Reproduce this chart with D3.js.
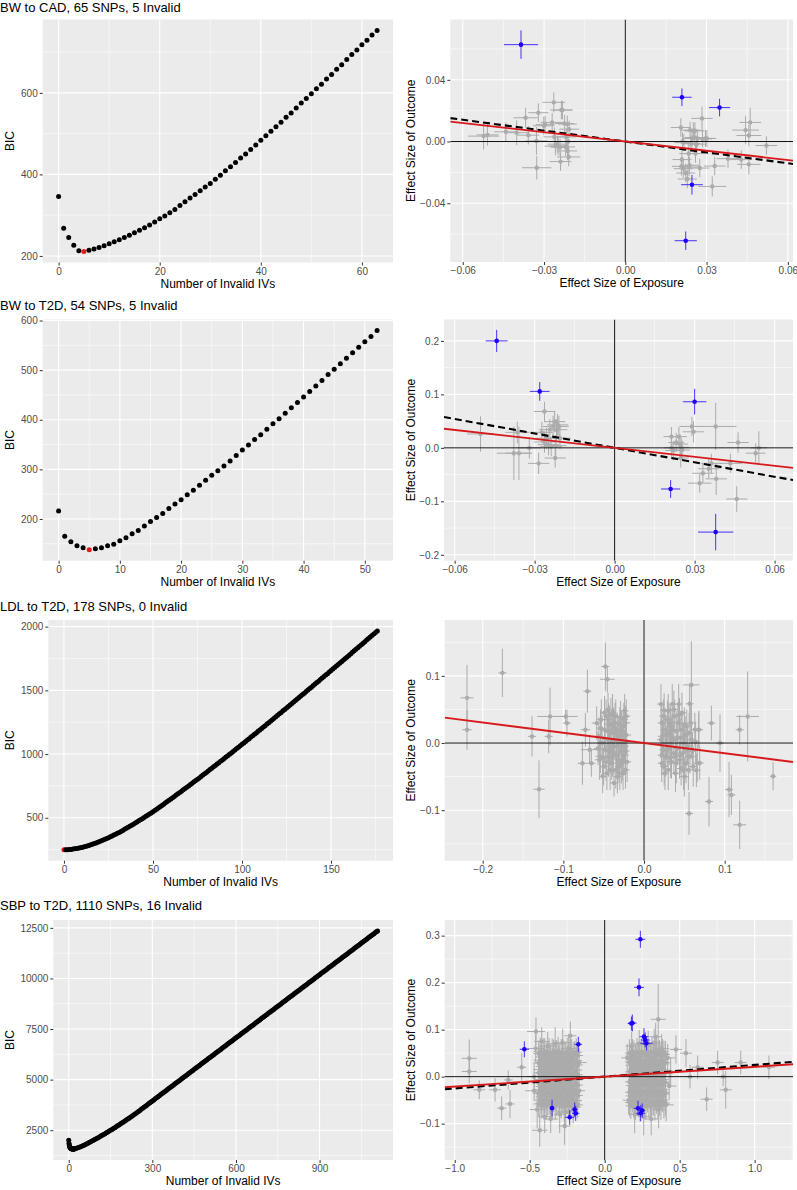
<!DOCTYPE html>
<html><head><meta charset="utf-8">
<script src="https://cdn.jsdelivr.net/npm/d3@7"></script>
<style>body{margin:0;background:#fff}svg{display:block}text{font-family:"Liberation Sans",Arial,Helvetica,sans-serif}</style>
</head><body><svg id="c" width="797" height="1190"></svg>
<script>
// ---------------- DATA ----------------
const rowTitles = ["BW to CAD, 65 SNPs, 5 Invalid","BW to T2D, 54 SNPs, 5 Invalid","LDL to T2D, 178 SNPs, 0 Invalid","SBP to T2D, 1110 SNPs, 16 Invalid"];

// BIC curves (x = number of invalid IVs)
const cadK = [0,1,2,3,4,5,6,7,8,9,10,11,12,13,14,15,16,17,18,19,20,21,22,23,24,25,26,27,28,29,30,31,32,33,34,35,36,37,38,39,40,41,42,43,44,45,46,47,48,49,50,51,52,53,54,55,56,57,58,59,60,61,62,63];
const cadBIC = [346,268,245,226,213,211,214,217,221,225,230,235,240,245,251,257,263,269,276,283,291,298,306,314,324,333,342,351,360,369,378,388,398,409,419,429,440,450,461,472,484,495,506,517,528,540,551,563,575,586,598,610,621,634,645,658,669,682,694,705,718,729,742,753];
const cadBest = 5;

const bwK = [0,1,2,3,4,5,6,7,8,9,10,11,12,13,14,15,16,17,18,19,20,21,22,23,24,25,26,27,28,29,30,31,32,33,34,35,36,37,38,39,40,41,42,43,44,45,46,47,48,49,50,51,52];
const bwBIC = [216,165,154,146,142,138,140,142,146,149,156,162,170,177,186,195,203,211,221,230,239,249,258,268,278,288,297,307,317,328,339,349,360,370,381,392,402,413,424,435,446,457,468,479,491,502,513,524,535,546,557,568,580];
const bwBest = 5;

const ldlK = [0,1,2,3,4,5,6,7,8,9,10,11,12,13,14,15,16,17,18,19,20,21,22,23,24,25,26,27,28,29,30,31,32,33,34,35,36,37,38,39,40,41,42,43,44,45,46,47,48,49,50,51,52,53,54,55,56,57,58,59,60,61,62,63,64,65,66,67,68,69,70,71,72,73,74,75,76,77,78,79,80,81,82,83,84,85,86,87,88,89,90,91,92,93,94,95,96,97,98,99,100,101,102,103,104,105,106,107,108,109,110,111,112,113,114,115,116,117,118,119,120,121,122,123,124,125,126,127,128,129,130,131,132,133,134,135,136,137,138,139,140,141,142,143,144,145,146,147,148,149,150,151,152,153,154,155,156,157,158,159,160,161,162,163,164,165,166,167,168,169,170,171,172,173,174,175,176];
const ldlBIC = [249,249,250,251,252,254,256,258,261,264,267,270,274,278,283,288,293,298,303,308,314,320,326,332,338,344,351,357,364,371,378,385,393,401,409,417,425,433,441,449,458,467,476,485,493,502,511,520,529,538,547,557,567,577,587,597,607,617,627,637,647,657,667,678,688,698,709,719,729,740,750,761,771,782,792,803,813,824,835,845,856,867,878,889,900,911,921,932,943,954,965,976,987,998,1009,1020,1032,1043,1054,1065,1076,1087,1099,1110,1121,1133,1144,1155,1166,1178,1189,1200,1212,1223,1235,1246,1258,1269,1281,1292,1304,1316,1327,1339,1350,1362,1374,1385,1397,1408,1420,1432,1443,1455,1467,1478,1490,1502,1514,1525,1537,1549,1561,1572,1584,1596,1608,1620,1631,1643,1655,1667,1679,1691,1703,1715,1726,1738,1750,1762,1774,1786,1798,1810,1822,1834,1846,1858,1870,1882,1894,1906,1918,1930,1942,1954,1966];
const ldlBest = 0;

const sbpK = [0,1,2,3,4,5,6,7,8,9,10,11,12,13,14,15,16,17,18,19,20,25,30,35,40,45,50,55,60,65,70,75,80,85,90,95,100,105,110,115,120,125,130,135,140,145,150,155,160,165,170,175,180,185,190,195,200,205,210,215,220,225,230,235,240,245,250,255,260,265,270,275,280,285,290,295,300,305,310,315,320,325,330,335,340,345,350,355,360,365,370,375,380,385,390,395,400,405,410,415,420,425,430,435,440,445,450,455,460,465,470,475,480,485,490,495,500,505,510,515,520,525,530,535,540,545,550,555,560,565,570,575,580,585,590,595,600,605,610,615,620,625,630,635,640,645,650,655,660,665,670,675,680,685,690,695,700,705,710,715,720,725,730,735,740,745,750,755,760,765,770,775,780,785,790,795,800,805,810,815,820,825,830,835,840,845,850,855,860,865,870,875,880,885,890,895,900,905,910,915,920,925,930,935,940,945,950,955,960,965,970,975,980,985,990,995,1000,1005,1010,1015,1020,1025,1030,1035,1040,1045,1050,1055,1060,1065,1070,1075,1080,1085,1090,1095,1100,1105,1108];
const sbpBIC = [2010,1860,1770,1710,1670,1645,1625,1610,1598,1590,1583,1578,1574,1571,1569,1568,1567,1568,1569,1571,1575,1594,1615,1641,1668,1698,1729,1762,1795,1830,1866,1902,1939,1976,2014,2052,2091,2130,2170,2209,2249,2289,2330,2371,2413,2455,2498,2541,2584,2627,2671,2715,2760,2805,2851,2897,2944,2991,3038,3085,3133,3181,3230,3279,3329,3379,3429,3480,3531,3582,3634,3686,3738,3790,3842,3894,3947,3999,4051,4103,4155,4207,4259,4311,4363,4415,4467,4519,4571,4623,4675,4727,4779,4831,4883,4935,4987,5039,5091,5143,5195,5247,5299,5351,5403,5455,5507,5559,5611,5663,5715,5767,5819,5871,5923,5975,6027,6079,6131,6183,6235,6287,6339,6391,6443,6495,6547,6599,6651,6703,6755,6807,6859,6911,6963,7015,7067,7119,7171,7223,7275,7327,7379,7431,7483,7535,7587,7639,7691,7743,7795,7847,7899,7951,8003,8055,8107,8159,8211,8263,8315,8367,8419,8471,8523,8575,8627,8679,8731,8783,8835,8887,8939,8991,9043,9095,9147,9199,9251,9303,9355,9407,9459,9511,9563,9615,9667,9719,9771,9823,9875,9927,9979,10031,10083,10135,10187,10239,10291,10343,10395,10447,10499,10551,10603,10655,10707,10759,10811,10863,10915,10967,11019,11071,11123,11175,11227,11279,11331,11383,11435,11487,11539,11591,11643,11695,11747,11799,11851,11903,11955,12007,12059,12111,12163,12215,12267,12319,12350];
const sbpBest = 16;

// Scatter: [exposure effect, outcome effect, exposure bar half-width, outcome bar half-width]
const cadValid = [
[-0.0523,0.0035,0.0058,0.0087],[-0.0509,0.0043,0.0040,0.0070],[-0.0441,0.0063,0.0043,0.0060],[-0.0401,0.0057,0.0045,0.0080],
[-0.0368,0.0154,0.0045,0.0065],[-0.0358,0.0041,0.0040,0.0060],[-0.0328,0.0004,0.0040,0.0090],[-0.0327,-0.0170,0.0054,0.0076],
[-0.0321,0.0187,0.0037,0.0060],[-0.0301,0.0102,0.0040,0.0060],[-0.0296,0.0111,0.0035,0.0055],[-0.0270,0.0124,0.0043,0.0060],
[-0.0264,0.0254,0.0042,0.0065],[-0.0262,0.0030,0.0040,0.0060],[-0.0258,-0.0030,0.0040,0.0060],[-0.0251,-0.0017,0.0035,0.0055],
[-0.0248,-0.0030,0.0035,0.0060],[-0.0241,-0.0037,0.0035,0.0055],[-0.0239,-0.0130,0.0040,0.0060],[-0.0236,0.0204,0.0042,0.0060],
[-0.0232,0.0204,0.0035,0.0060],[-0.0224,0.0117,0.0035,0.0055],[-0.0220,-0.0035,0.0035,0.0060],[-0.0218,0.0030,0.0035,0.0055],
[-0.0214,0.0113,0.0035,0.0055],[-0.0213,-0.0061,0.0035,0.0060],[-0.0209,-0.0100,0.0043,0.0060],[-0.0207,0.0080,0.0037,0.0055],
[-0.0211,0.0000,0.0035,0.0055],
[0.0205,0.0091,0.0037,0.0060],[0.0209,-0.0117,0.0035,0.0060],[0.0207,-0.0161,0.0035,0.0060],[0.0211,0.0000,0.0035,0.0060],
[0.0214,-0.0176,0.0035,0.0060],[0.0216,-0.0007,0.0035,0.0055],[0.0223,-0.0204,0.0035,0.0060],[0.0229,-0.0243,0.0035,0.0060],
[0.0234,-0.0078,0.0035,0.0055],[0.0235,-0.0165,0.0035,0.0060],[0.0237,-0.0154,0.0035,0.0055],[0.0239,0.0074,0.0035,0.0055],
[0.0242,-0.0013,0.0035,0.0055],[0.0246,0.0020,0.0035,0.0060],[0.0251,0.0070,0.0035,0.0055],[0.0255,0.0026,0.0035,0.0055],
[0.0257,0.0070,0.0035,0.0055],[0.0259,-0.0078,0.0035,0.0060],[0.0263,-0.0017,0.0035,0.0055],[0.0266,0.0020,0.0035,0.0055],
[0.0275,-0.0172,0.0035,0.0060],[0.0283,0.0150,0.0040,0.0075],[0.0285,0.0017,0.0035,0.0055],[0.0296,0.0020,0.0035,0.0055],
[0.0301,0.0020,0.0035,0.0055],[0.0321,-0.0291,0.0052,0.0065],[0.0330,-0.0159,0.0040,0.0060],[0.0379,-0.0111,0.0043,0.0060],
[0.0428,-0.0117,0.0040,0.0060],[0.0444,0.0074,0.0049,0.0092],[0.0456,0.0039,0.0046,0.0070],[0.0456,-0.0148,0.0043,0.0065],
[0.0461,0.0124,0.0040,0.0095],[0.0521,-0.0026,0.0040,0.0060]
];
const cadInvalid = [
[-0.0385,0.0628,0.0063,0.0092],[0.0209,0.0287,0.0036,0.0057],[0.0348,0.0220,0.0039,0.0057],[0.0246,-0.0280,0.0040,0.0064],[0.0223,-0.0643,0.0041,0.0060]
];

const bwValid = [
[-0.0503,0.026,0.0050,0.033],[-0.0378,-0.010,0.0064,0.050],[-0.0359,-0.010,0.0050,0.050],[-0.0365,0.029,0.0045,0.020],
[-0.0320,0.000,0.0044,0.020],[-0.0285,-0.029,0.0040,0.020],[-0.0263,0.068,0.0040,0.018],[-0.0273,0.029,0.0040,0.020],
[-0.0256,0.018,0.0040,0.020],[-0.0263,0.011,0.0040,0.020],[-0.0248,0.006,0.0040,0.020],[-0.0243,0.034,0.0040,0.020],
[-0.0238,0.0025,0.0040,0.018],[-0.0231,0.040,0.0040,0.020],[-0.0225,0.049,0.0040,0.020],[-0.0223,-0.019,0.0040,0.018],
[-0.0218,0.034,0.0040,0.020],[-0.0214,0.043,0.0040,0.020],[-0.0209,0.040,0.0037,0.020],[-0.0221,0.004,0.0040,0.020],
[-0.0205,0.018,0.0040,0.020],
[0.0213,0.021,0.0030,0.018],[0.0213,0.000,0.0030,0.018],[0.0220,-0.005,0.0030,0.018],[0.0231,0.010,0.0030,0.018],
[0.0241,0.021,0.0030,0.018],[0.0245,0.007,0.0030,0.018],[0.0250,0.001,0.0030,0.018],[0.0253,-0.004,0.0030,0.018],
[0.0248,-0.019,0.0030,0.018],[0.0290,0.040,0.0047,0.018],[0.0296,0.030,0.0040,0.020],[0.0319,-0.066,0.0044,0.018],
[0.0331,-0.0475,0.0040,0.018],[0.0353,-0.039,0.0040,0.018],[0.0363,-0.029,0.0040,0.018],[0.0379,0.040,0.0078,0.044],
[0.0381,-0.058,0.0040,0.030],[0.0434,-0.029,0.0044,0.018],[0.0463,0.010,0.0040,0.019],[0.0458,-0.0956,0.0040,0.024],
[0.0529,-0.010,0.0037,0.018],[0.0541,0.000,0.0030,0.031]
];
const bwInvalid = [
[-0.04425,0.200,0.0041,0.0206],[-0.0281,0.1056,0.0037,0.0175],[0.0300,0.0862,0.0044,0.024],[0.0210,-0.0769,0.0036,0.0166],[0.0379,-0.1575,0.0066,0.034]
];

const ldlValid = [
[-0.2194,0.0673,0.008,0.049],[-0.2194,0.0198,0.006,0.030],[-0.1756,0.1045,0.005,0.036],[-0.1388,0.0099,0.005,0.030],
[-0.1302,-0.0688,0.007,0.043],[-0.1165,0.0396,0.016,0.043],[-0.1182,0.0099,0.005,0.025],[-0.0971,0.0396,0.015,0.010],
[-0.0955,0.0297,0.005,0.020],[-0.0764,-0.0302,0.006,0.032],[-0.0702,0.0772,0.005,0.032],[-0.0674,-0.0099,0.011,0.020],
[-0.0653,-0.0302,0.005,0.020],[-0.0727,0.0198,0.006,0.025],[-0.0587,0.0297,0.006,0.025],[-0.0541,-0.0198,0.006,0.025],
[-0.0512,-0.0495,0.005,0.025],[-0.0479,0.1139,0.005,0.036],[-0.0455,0.0950,0.009,0.020],[-0.0446,0.0495,0.005,0.025],
[-0.0372,-0.0594,0.005,0.020],
[-0.056,0.010,0.006,0.028],[-0.055,-0.025,0.006,0.030],[-0.053,0.035,0.005,0.030],[-0.052,0.000,0.006,0.025],
[-0.050,-0.035,0.005,0.028],[-0.049,0.020,0.006,0.030],[-0.048,-0.010,0.005,0.028],[-0.047,0.040,0.005,0.025],
[-0.046,-0.045,0.006,0.025],[-0.045,0.005,0.006,0.030],[-0.044,-0.020,0.005,0.030],[-0.043,0.028,0.005,0.028],
[-0.042,-0.005,0.006,0.025],[-0.041,0.015,0.005,0.030],[-0.040,-0.030,0.005,0.025],[-0.039,0.045,0.005,0.028],
[-0.038,-0.015,0.006,0.030],[-0.037,0.005,0.005,0.025],[-0.036,0.030,0.006,0.030],[-0.035,-0.040,0.005,0.028],
[-0.034,-0.005,0.005,0.030],[-0.033,0.020,0.006,0.025],[-0.032,-0.025,0.005,0.028],[-0.031,0.010,0.005,0.030],
[-0.030,-0.012,0.006,0.028],[-0.029,0.038,0.005,0.025],[-0.028,-0.030,0.005,0.030],[-0.027,0.000,0.006,0.028],
[-0.026,0.025,0.005,0.025],[-0.025,-0.018,0.006,0.030],[-0.024,0.048,0.005,0.025],[-0.023,-0.040,0.005,0.028],
[-0.022,0.012,0.006,0.030],[-0.024,-0.005,0.005,0.025],[-0.026,-0.045,0.005,0.025],[-0.030,0.028,0.005,0.025],
[-0.033,-0.050,0.005,0.025],[-0.036,0.015,0.005,0.028],[-0.040,0.002,0.005,0.030],[-0.044,0.035,0.005,0.025],
[-0.028,0.018,0.005,0.030],[-0.023,0.030,0.006,0.025],[-0.025,0.005,0.005,0.028],[-0.031,-0.035,0.005,0.025],
[-0.038,0.025,0.005,0.028],[-0.043,-0.012,0.005,0.025],
[-0.057,-0.008,0.005,0.025],[-0.054,0.022,0.005,0.028],[-0.051,-0.022,0.005,0.030],[-0.049,0.045,0.005,0.025],
[-0.047,-0.028,0.005,0.028],[-0.045,0.018,0.005,0.025],[-0.042,-0.040,0.005,0.030],[-0.041,0.042,0.005,0.025],
[-0.039,-0.022,0.005,0.028],[-0.037,0.020,0.005,0.030],[-0.035,0.040,0.005,0.025],[-0.034,-0.018,0.005,0.028],
[-0.032,0.005,0.005,0.030],[-0.030,-0.045,0.005,0.025],[-0.029,0.012,0.005,0.028],[-0.027,-0.025,0.005,0.030],
[-0.025,0.035,0.005,0.025],[-0.023,-0.012,0.005,0.028],[-0.022,0.040,0.005,0.025],[-0.021,-0.028,0.005,0.030],
[0.021,0.058,0.005,0.030],[0.022,-0.030,0.005,0.028],[0.023,0.010,0.006,0.025],[0.024,-0.010,0.005,0.030],
[0.025,0.049,0.005,0.025],[0.026,0.020,0.006,0.028],[0.027,-0.020,0.005,0.030],[0.028,0.000,0.006,0.025],
[0.029,0.035,0.005,0.028],[0.030,-0.040,0.005,0.030],[0.031,0.015,0.006,0.025],[0.032,-0.005,0.005,0.028],
[0.033,0.025,0.005,0.030],[0.034,-0.028,0.006,0.025],[0.035,0.058,0.005,0.030],[0.036,0.005,0.005,0.028],
[0.037,-0.015,0.006,0.030],[0.038,0.040,0.005,0.025],[0.039,-0.045,0.005,0.028],[0.040,0.018,0.006,0.030],
[0.041,-0.008,0.005,0.025],[0.042,0.030,0.005,0.028],[0.043,0.058,0.005,0.030],[0.044,-0.025,0.006,0.028],
[0.045,0.008,0.005,0.030],[0.046,-0.038,0.005,0.025],[0.047,0.020,0.006,0.028],[0.048,-0.015,0.005,0.030],
[0.049,0.000,0.005,0.025],[0.050,-0.050,0.006,0.030],[0.051,0.012,0.005,0.028],[0.052,-0.030,0.005,0.030],
[0.053,0.025,0.006,0.025],[0.054,-0.005,0.005,0.028],[0.056,0.015,0.005,0.030],[0.057,-0.020,0.006,0.025],
[0.059,0.005,0.005,0.028],[0.061,-0.035,0.005,0.030],[0.063,0.020,0.005,0.025],[0.066,-0.030,0.006,0.028],
[0.068,0.020,0.005,0.028],[0.030,0.048,0.005,0.025],[0.034,0.010,0.005,0.028],[0.039,-0.020,0.005,0.030],
[0.044,0.042,0.005,0.025],[0.049,-0.040,0.005,0.030],[0.026,-0.045,0.005,0.025],[0.022,0.030,0.005,0.028],
[0.021,0.005,0.005,0.028],[0.022,-0.018,0.005,0.030],[0.024,0.040,0.005,0.025],[0.025,-0.035,0.005,0.028],
[0.027,0.012,0.005,0.030],[0.029,-0.010,0.005,0.025],[0.031,0.030,0.005,0.028],[0.033,-0.022,0.005,0.030],
[0.035,0.020,0.005,0.025],[0.037,0.050,0.005,0.028],[0.040,-0.030,0.005,0.030],[0.042,0.008,0.005,0.025],
[0.045,-0.018,0.005,0.028],[0.047,0.045,0.005,0.030],[0.050,0.028,0.005,0.025],[0.052,-0.010,0.005,0.028],
[0.055,-0.040,0.005,0.030],[0.058,0.030,0.005,0.025],[0.060,-0.012,0.005,0.028],[0.064,0.002,0.005,0.030],
[0.0566,0.0584,0.005,0.030],[0.0587,0.0866,0.010,0.065],[0.0558,-0.1049,0.005,0.032],[0.0678,0.0198,0.005,0.025],
[0.0649,-0.0406,0.005,0.025],[0.0690,-0.0297,0.005,0.025],[0.0835,0.0297,0.005,0.026],[0.0806,-0.0871,0.005,0.037],
[0.0942,0.0000,0.005,0.043],[0.1054,-0.0693,0.005,0.041],[0.1083,-0.0772,0.005,0.030],[0.1186,0.0198,0.005,0.022],
[0.1285,0.0396,0.014,0.067],[0.1186,-0.1218,0.008,0.036],[0.1600,-0.0495,0.004,0.021]
];
const ldlInvalid = [];

// SBP: scattered valid SNPs (outliers and cluster edges)
const sbpValid = [
[-0.903,0.039,0.05,0.040],[-0.903,0.011,0.05,0.025],[-0.836,-0.028,0.04,0.020],[-0.731,-0.028,0.04,0.025],
[-0.687,-0.067,0.03,0.025],[-0.631,-0.058,0.03,0.030],[-0.643,-0.007,0.03,0.020],[-0.553,0.020,0.03,0.030],
[-0.458,0.096,0.06,0.030],[-0.433,-0.114,0.05,0.035],[-0.267,-0.105,0.04,0.040],[-0.229,0.087,0.04,0.030],
[0.357,0.122,0.05,0.075],[0.475,0.058,0.04,0.030],[0.542,0.050,0.04,0.030],[0.680,-0.048,0.04,0.025],
[0.790,0.000,0.04,0.020],[0.807,-0.028,0.04,0.040],[0.753,0.030,0.04,0.025],[0.907,0.030,0.04,0.025],
[1.095,0.020,0.04,0.025],[0.620,0.020,0.04,0.025],[0.569,0.000,0.03,0.025],
[-0.46,0.060,0.06,0.030],[-0.45,-0.070,0.05,0.040],[-0.42,0.075,0.05,0.030],[-0.40,-0.085,0.04,0.035],
[-0.38,0.065,0.06,0.030],[-0.36,-0.090,0.05,0.030],[-0.33,0.070,0.05,0.035],[-0.30,-0.080,0.04,0.040],
[-0.28,0.072,0.05,0.030],[-0.26,-0.075,0.06,0.035],[-0.24,0.060,0.05,0.030],[-0.21,-0.065,0.05,0.035],
[-0.17,0.030,0.05,0.030],[-0.17,-0.030,0.04,0.030],[-0.47,0.000,0.05,0.030],[-0.47,-0.030,0.06,0.020],
[0.15,0.040,0.04,0.030],[0.16,-0.050,0.04,0.030],[0.18,0.065,0.04,0.030],[0.20,-0.080,0.04,0.040],
[0.23,0.070,0.05,0.030],[0.26,-0.085,0.04,0.040],[0.29,0.068,0.05,0.030],[0.31,-0.090,0.05,0.035],
[0.33,0.072,0.04,0.030],[0.36,-0.070,0.05,0.040],[0.38,0.060,0.05,0.030],[0.41,-0.060,0.05,0.035],
[0.42,0.040,0.05,0.030],[0.43,-0.020,0.05,0.030],[0.44,0.010,0.04,0.030],[0.34,0.085,0.04,0.030]
];
// SBP dense clusters: exposure value of each column, outcome values in that column, bar half-widths per column
const sbpLeftX = [-0.44,-0.43,-0.42,-0.41,-0.40,-0.39,-0.38,-0.37,-0.36,-0.35,-0.34,-0.33,-0.32,-0.31,-0.30,-0.29,-0.28,-0.27,-0.26,-0.25,-0.24,-0.23,-0.22,-0.21,-0.20,-0.19,-0.18];
const sbpLeftY = [
[-0.058,-0.036,-0.014,0.008,0.029,0.049],[-0.050,-0.028,-0.006,0.015,0.035,0.053],[-0.063,-0.043,-0.021,0.001,0.022,0.042],
[-0.056,-0.034,-0.013,0.009,0.030,0.050],[-0.049,-0.027,-0.005,0.016,0.036,0.054],[-0.062,-0.042,-0.020,0.002,0.023,0.043],
[-0.057,-0.035,-0.015,0.007,0.028,0.048],[-0.051,-0.029,-0.007,0.014,0.034,0.052],[-0.064,-0.044,-0.022,0.000,0.021,0.041],
[-0.058,-0.037,-0.014,0.008,0.029,0.049],[-0.050,-0.028,-0.006,0.015,0.035,0.053],[-0.062,-0.043,-0.021,0.001,0.022,0.042],
[-0.056,-0.034,-0.013,0.009,0.030,0.050],[-0.049,-0.027,-0.005,0.016,0.036,0.054],[-0.063,-0.042,-0.020,0.002,0.023,0.043],
[-0.057,-0.035,-0.015,0.007,0.028,0.048],[-0.051,-0.029,-0.007,0.014,0.034,0.052],[-0.064,-0.044,-0.022,0.000,0.021,0.041],
[-0.058,-0.037,-0.014,0.008,0.029,0.049],[-0.050,-0.028,-0.006,0.015,0.035,0.053],[-0.062,-0.043,-0.021,0.001,0.022,0.042],
[-0.056,-0.034,-0.013,0.009,0.030,0.050],[-0.049,-0.027,-0.005,0.016,0.036,0.054],[-0.063,-0.042,-0.020,0.002,0.023,0.043],
[-0.057,-0.035,-0.015,0.007,0.028,0.048],[-0.051,-0.029,-0.007,0.014,0.034,0.052],[-0.060,-0.040,-0.018,0.004,0.025,0.045]];
const sbpLeftSX = [0.035,0.045,0.040,0.050,0.035,0.045,0.040,0.050,0.035,0.045,0.040,0.050,0.035,0.045,0.040,0.050,0.035,0.045,0.040,0.050,0.035,0.045,0.040,0.045,0.035,0.040,0.035];
const sbpLeftSY = [0.028,0.030,0.026,0.032,0.028,0.030,0.026,0.030,0.028,0.032,0.026,0.030,0.028,0.030,0.026,0.032,0.028,0.030,0.026,0.030,0.028,0.032,0.026,0.030,0.028,0.030,0.028];
const sbpRightX = [0.165,0.175,0.185,0.195,0.205,0.215,0.225,0.235,0.245,0.255,0.265,0.275,0.285,0.295,0.305,0.315,0.325,0.335,0.345,0.355,0.365,0.375,0.385,0.395,0.405];
const sbpRightY = [
[-0.055,-0.033,-0.011,0.010,0.031,0.050],[-0.062,-0.041,-0.019,0.003,0.024,0.044],[-0.050,-0.028,-0.006,0.016,0.036,0.054],
[-0.059,-0.037,-0.015,0.007,0.027,0.047],[-0.064,-0.043,-0.021,0.000,0.021,0.041],[-0.052,-0.030,-0.008,0.013,0.033,0.052],
[-0.057,-0.035,-0.013,0.009,0.029,0.049],[-0.063,-0.042,-0.020,0.002,0.022,0.043],[-0.051,-0.029,-0.007,0.015,0.035,0.053],
[-0.060,-0.038,-0.016,0.006,0.026,0.046],[-0.055,-0.033,-0.011,0.010,0.031,0.050],[-0.062,-0.041,-0.019,0.003,0.024,0.044],
[-0.050,-0.028,-0.006,0.016,0.036,0.054],[-0.059,-0.037,-0.015,0.007,0.027,0.047],[-0.064,-0.043,-0.021,0.000,0.021,0.041],
[-0.052,-0.030,-0.008,0.013,0.033,0.052],[-0.057,-0.035,-0.013,0.009,0.029,0.049],[-0.063,-0.042,-0.020,0.002,0.022,0.043],
[-0.051,-0.029,-0.007,0.015,0.035,0.053],[-0.060,-0.038,-0.016,0.006,0.026,0.046],[-0.055,-0.033,-0.011,0.010,0.031,0.050],
[-0.062,-0.041,-0.019,0.003,0.024,0.044],[-0.050,-0.028,-0.006,0.016,0.036,0.054],[-0.059,-0.037,-0.015,0.007,0.027,0.047],
[-0.056,-0.034,-0.012,0.009,0.030,0.048]];
const sbpRightSX = [0.030,0.035,0.030,0.040,0.035,0.030,0.040,0.035,0.030,0.035,0.040,0.035,0.030,0.035,0.030,0.040,0.035,0.030,0.040,0.035,0.030,0.035,0.040,0.035,0.030];
const sbpRightSY = [0.030,0.028,0.026,0.030,0.028,0.030,0.026,0.032,0.028,0.030,0.028,0.030,0.026,0.030,0.028,0.032,0.026,0.030,0.028,0.030,0.028,0.030,0.026,0.030,0.028];
const sbpInvalid = [
[0.2378,0.2922,0.033,0.018],[0.2289,0.1900,0.033,0.019],[0.1844,0.1142,0.028,0.018],[0.1780,0.1130,0.025,0.015],
[0.2620,0.0851,0.030,0.018],[0.2780,0.0710,0.040,0.015],[-0.5356,0.0582,0.031,0.017],[-0.1756,0.0688,0.025,0.016],
[-0.2333,-0.0865,0.030,0.016],[-0.1933,-0.0780,0.025,0.016],[0.2400,-0.0780,0.030,0.017],[0.2222,-0.0674,0.030,0.016],
[-0.3510,-0.0670,0.010,0.018],[0.2700,0.0780,0.030,0.016],[-0.2000,-0.0700,0.020,0.015],[0.2500,-0.0720,0.020,0.015]
];

// fitted causal-effect slopes (red = robust estimate, dashed = naive estimate)
const redSlopes = [-0.200, -0.560, -0.153, 0.021];
const dashSlopes = [-0.235, -0.900, null, 0.025];

// tick values
const bicXTicks = [[0,20,40,60],[0,10,20,30,40,50],[0,50,100,150],[0,300,600,900]];
const bicXMinor = [[10,30,50],[5,15,25,35,45],[25,75,125,175],[150,450,750,1050]];
const bicYTicks = [[200,400,600],[200,300,400,500,600],[500,1000,1500,2000],[2500,5000,7500,10000,12500]];
const bicYMinor = [[300,500,700],[150,250,350,450,550],[250,750,1250,1750],[1250,3750,6250,8750,11250]];
const scXTicks = [[-0.06,-0.03,0,0.03,0.06],[-0.06,-0.03,0,0.03,0.06],[-0.2,-0.1,0,0.1],[-1,-0.5,0,0.5,1]];
const scXMinor = [[-0.045,-0.015,0.015,0.045],[-0.045,-0.015,0.015,0.045],[-0.15,-0.05,0.05,0.15],[-0.75,-0.25,0.25,0.75,1.25]];
const scYTicks = [[-0.04,0,0.04],[-0.2,-0.1,0,0.1,0.2],[-0.1,0,0.1],[-0.1,0,0.1,0.2,0.3]];
const scYMinor = [[-0.06,-0.02,0.02,0.06],[-0.15,-0.05,0.05,0.15],[-0.15,-0.05,0.05,0.15],[-0.15,-0.05,0.05,0.15,0.25]];
const scXDomains = [[-0.0646,0.0619],[-0.0640,0.0669],[-0.2471,0.1847],[-1.0667,1.2556]];
const scYDomains = [[-0.0781,0.0791],[-0.211,0.240],[-0.1752,0.1832],[-0.1773,0.3333]];
const scFormats = [[".2f",".2f"],[".2f",".1f"],[".1f",".1f"],[".1f",".1f"]];

// ---------------- LAYOUT ----------------
const layout = [
 {bic:{l:42.7,t:19.5,r:393,b:262.5}, sc:{l:450.3,t:19.5,r:793,b:262}, title:11.5},
 {bic:{l:42.7,t:319.5,r:393,b:560.7}, sc:{l:444,t:319.5,r:793,b:560.7}, title:310},
 {bic:{l:48.3,t:620,r:393,b:860.7}, sc:{l:444.7,t:620,r:793,b:860.7}, title:610.5},
 {bic:{l:53.3,t:920,r:393,b:1160}, sc:{l:444.7,t:920,r:793,b:1160}, title:910}
];

const svg = d3.select("#c");
const GRAY = "#ABABAB", BLUE = "#1E00FF", RED = "#D7191C";
let clipN = 0;

function frame(rc, xd, yd, xMaj, xMin, yMaj, yMin, xFmt, yFmt, xTitle, yTitle, yTitleX){
  const x = d3.scaleLinear().domain(xd).range([rc.l, rc.r]);
  const y = d3.scaleLinear().domain(yd).range([rc.b, rc.t]);
  const g = svg.append("g");
  g.append("rect").attr("x",rc.l).attr("y",rc.t).attr("width",rc.r-rc.l).attr("height",rc.b-rc.t).attr("fill","#EBEBEB");
  const grid = g.append("g");
  grid.selectAll(".vm").data(xMin.filter(v=>v>=xd[0]&&v<=xd[1])).join("line")
    .attr("x1",d=>x(d)).attr("x2",d=>x(d)).attr("y1",rc.t).attr("y2",rc.b).attr("stroke","#fff").attr("stroke-width",0.55);
  grid.selectAll(".hm").data(yMin.filter(v=>v>=yd[0]&&v<=yd[1])).join("line")
    .attr("y1",d=>y(d)).attr("y2",d=>y(d)).attr("x1",rc.l).attr("x2",rc.r).attr("stroke","#fff").attr("stroke-width",0.55);
  grid.selectAll(".vM").data(xMaj).join("line")
    .attr("x1",d=>x(d)).attr("x2",d=>x(d)).attr("y1",rc.t).attr("y2",rc.b).attr("stroke","#fff").attr("stroke-width",1.1);
  grid.selectAll(".hM").data(yMaj).join("line")
    .attr("y1",d=>y(d)).attr("y2",d=>y(d)).attr("x1",rc.l).attr("x2",rc.r).attr("stroke","#fff").attr("stroke-width",1.1);
  const ax = g.append("g").attr("transform",`translate(0,${rc.b})`)
    .call(d3.axisBottom(x).tickValues(xMaj).tickFormat(d3.format(xFmt)).tickSize(3).tickPadding(2));
  const ay = g.append("g").attr("transform",`translate(${rc.l},0)`)
    .call(d3.axisLeft(y).tickValues(yMaj).tickFormat(d3.format(yFmt)).tickSize(3).tickPadding(2));
  [ax,ay].forEach(a=>{
    a.select(".domain").remove();
    a.selectAll(".tick line").attr("stroke","#333").attr("stroke-width",1);
    a.selectAll(".tick text").attr("fill","#4D4D4D").style("font-size","10px").style("font-family",'"Liberation Sans",Arial,sans-serif');
  });
  g.append("text").attr("x",(rc.l+rc.r)/2).attr("y",rc.b+25).attr("text-anchor","middle")
    .style("font-size","12px").attr("fill","#000").text(xTitle);
  g.append("text").attr("transform",`translate(${yTitleX},${(rc.t+rc.b)/2}) rotate(-90)`).attr("text-anchor","middle")
    .style("font-size","12px").attr("fill","#000").text(yTitle);
  const id = "clip"+(clipN++);
  svg.append("clipPath").attr("id",id).append("rect").attr("x",rc.l).attr("y",rc.t).attr("width",rc.r-rc.l).attr("height",rc.b-rc.t);
  const plot = g.append("g").attr("clip-path",`url(#${id})`);
  return {x,y,plot};
}

function bicPanel(i, ks, bics, best){
  const rc = layout[i].bic;
  const ex = d3.extent(ks), ey = d3.extent(bics);
  const px = (ex[1]-ex[0])*0.05, py = (ey[1]-ey[0])*0.05;
  const f = frame(rc,[ex[0]-px,ex[1]+px],[ey[0]-py,ey[1]+py],bicXTicks[i],bicXMinor[i],bicYTicks[i],bicYMinor[i],"d","d",
    "Number of Invalid IVs","BIC",14);
  const pts = ks.map((k,j)=>({k,b:bics[j]}));
  const bi = ks.indexOf(best);
  f.plot.append("circle").attr("cx",f.x(pts[bi].k)).attr("cy",f.y(pts[bi].b)).attr("r",2.5).attr("fill","#E41A1C");
  f.plot.selectAll(".p").data(pts.filter((d,j)=>j!==bi)).join("circle")
    .attr("cx",d=>f.x(d.k)).attr("cy",d=>f.y(d.b)).attr("r",2.5).attr("fill","#000");
}

function errPts(f, data, color, barOpacity, r){
  const g = f.plot.append("g");
  g.selectAll(".v").data(data).join("line")
    .attr("x1",d=>f.x(d[0])).attr("x2",d=>f.x(d[0])).attr("y1",d=>f.y(d[1]-d[3])).attr("y2",d=>f.y(d[1]+d[3]))
    .attr("stroke",color).attr("stroke-width",1).attr("stroke-opacity",barOpacity);
  g.selectAll(".h").data(data).join("line")
    .attr("y1",d=>f.y(d[1])).attr("y2",d=>f.y(d[1])).attr("x1",d=>f.x(d[0]-d[2])).attr("x2",d=>f.x(d[0]+d[2]))
    .attr("stroke",color).attr("stroke-width",1).attr("stroke-opacity",barOpacity);
  g.selectAll(".c").data(data).join("circle")
    .attr("cx",d=>f.x(d[0])).attr("cy",d=>f.y(d[1])).attr("r",r).attr("fill",color);
}

function scPanel(i, valid, invalid){
  const rc = layout[i].sc;
  const f = frame(rc, scXDomains[i], scYDomains[i], scXTicks[i], scXMinor[i], scYTicks[i], scYMinor[i],
    scFormats[i][0], scFormats[i][1], "Effect Size of Exposure","Effect Size of Outcome",415);
  errPts(f, valid, GRAY, 1, 2.2);
  if (invalid.length) errPts(f, invalid, BLUE, 0.8, 2.3);
  const xd = scXDomains[i], yd = scYDomains[i];
  f.plot.append("line").attr("x1",f.x(xd[0])).attr("x2",f.x(xd[1])).attr("y1",f.y(0)).attr("y2",f.y(0)).attr("stroke","#111").attr("stroke-width",1);
  f.plot.append("line").attr("x1",f.x(0)).attr("x2",f.x(0)).attr("y1",f.y(yd[0])).attr("y2",f.y(yd[1])).attr("stroke","#111").attr("stroke-width",1);
  if (dashSlopes[i] !== null){
    f.plot.append("line").attr("x1",f.x(xd[0])).attr("x2",f.x(xd[1]))
      .attr("y1",f.y(xd[0]*dashSlopes[i])).attr("y2",f.y(xd[1]*dashSlopes[i]))
      .attr("stroke","#000").attr("stroke-width",2.1).attr("stroke-dasharray","7,4");
  }
  f.plot.append("line").attr("x1",f.x(xd[0])).attr("x2",f.x(xd[1]))
    .attr("y1",f.y(xd[0]*redSlopes[i])).attr("y2",f.y(xd[1]*redSlopes[i]))
    .attr("stroke",RED).attr("stroke-width",1.9);
}

rowTitles.forEach((t,i)=>{
  svg.append("text").attr("x",0).attr("y",layout[i].title).style("font-size","13px").attr("fill","#000").text(t);
});

bicPanel(0, cadK, cadBIC, cadBest);
bicPanel(1, bwK, bwBIC, bwBest);
bicPanel(2, ldlK, ldlBIC, ldlBest);
bicPanel(3, sbpK, sbpBIC, sbpBest);

scPanel(0, cadValid, cadInvalid);
scPanel(1, bwValid, bwInvalid);
scPanel(2, ldlValid, ldlInvalid);
const sbpAll = sbpValid.slice();
sbpLeftX.forEach((xv,c)=>sbpLeftY[c].forEach(yv=>sbpAll.push([xv,yv,sbpLeftSX[c],sbpLeftSY[c]])));
sbpRightX.forEach((xv,c)=>sbpRightY[c].forEach(yv=>sbpAll.push([xv,yv,sbpRightSX[c],sbpRightSY[c]])));
scPanel(3, sbpAll, sbpInvalid);
</script></body></html>
